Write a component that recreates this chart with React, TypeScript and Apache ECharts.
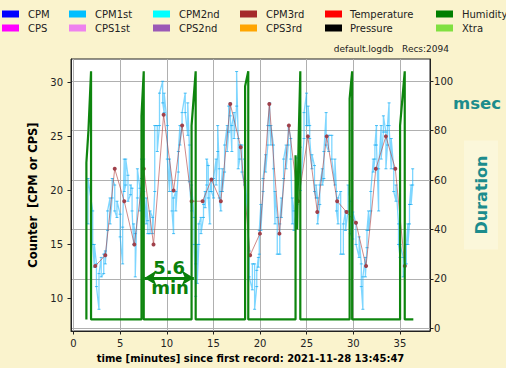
import React, { useEffect, useRef } from 'react';
import * as echarts from 'echarts';

// ---- tick values ----
const xTicks = [0, 5, 10, 15, 20, 25, 30, 35];
const leftTicks = [10, 15, 20, 25, 30];
const rightTicks = [0, 20, 40, 60, 80, 100];

// ---- legend ----
const legendRow1 = ['CPM', 'CPM1st', 'CPM2nd', 'CPM3rd', 'Temperature', 'Humidity'];
const legendRow2 = ['CPS', 'CPS1st', 'CPS2nd', 'CPS3rd', 'Pressure', 'Xtra'];
const legendColors1 = ['#0000FF', '#00BFFF', '#00FFFF', '#A52A2A', '#FF0000', '#007F00'];
const legendColors2 = ['#FF00FF', '#EE82EE', '#9B59B6', '#FFA500', '#000000', '#80E040'];

// ---- CPM3rd (brown, left axis) ----
const cpm3rdTimes = [2.33, 3.41, 4.42, 5.44, 6.52, 7.53, 8.58, 9.66, 10.73, 11.65, 12.66, 13.84, 14.79, 15.8, 16.81, 17.93, 18.94, 19.99, 21.0, 22.08, 23.1, 24.1, 25.13, 26.14, 27.15, 28.27, 29.28, 30.29, 31.37, 32.42, 33.5, 34.51, 35.53];
const cpm3rdValues = [13, 14, 22, 19, 15, 22, 15, 27, 20, 26, 19, 19, 21, 19, 28, 24, 14, 16, 28, 16, 26, 19, 25, 18, 25, 19, 18, 17, 13, 22, 25, 22, 13];

// ---- CPM1st (light blue, left axis): per time column, low and high reading ----
const cpm1stTimes = [1.55, 2.06, 2.23, 2.46, 2.73, 2.97, 3.24, 3.41, 3.65, 3.92, 4.15, 4.42, 4.66, 5.0, 5.27, 5.44, 5.6, 5.84, 6.11, 6.28, 6.45, 6.62, 6.85, 7.12, 7.29, 7.53, 7.8, 7.97, 8.21, 8.48, 8.71, 8.98, 9.22, 9.56,
  9.72, 10.06, 10.29, 10.56, 10.73, 10.97, 11.24, 11.41, 11.64, 11.98, 12.25, 12.42, 12.66, 12.93, 13.1, 13.27, 13.44, 13.67, 13.94, 14.11, 14.28, 14.45, 14.62, 14.79, 15.02, 15.29, 15.46, 15.63, 15.8, 15.97, 16.2, 16.48, 16.64, 16.81, 16.98, 17.22, 17.49, 17.66, 17.83, 18.06, 18.33, 18.84, 19.18,
  19.42, 19.65, 19.82, 19.92, 20.09, 20.33, 20.6, 20.84, 21.04, 21.17, 21.44, 21.61, 21.85, 22.12, 22.29, 22.53, 22.8, 23.03, 23.3, 23.47, 23.64, 23.98, 24.32, 24.72, 24.99, 25.16, 25.33, 25.57, 25.84, 26.01, 26.17, 26.41, 26.68, 26.85, 27.09, 27.36, 27.7, 28.03, 28.2, 28.37, 28.65,
  28.94, 29.17, 29.44, 29.68, 29.95, 30.29, 30.63, 30.86, 31.03, 31.3, 31.47, 31.64, 31.88, 32.15, 32.32, 32.49, 32.72, 32.99, 33.23, 33.5, 33.67, 33.84, 34.07, 34.34, 34.58, 34.85, 35.02, 35.36, 35.69, 35.86, 36.03, 36.2, 36.37];
const cpm1stLow = [16.9, 15.0, 12.9, 11.1, 9.0, 12.0, 12.3, 13.2, 16.3, 16.9, 19.3, 18.1, 17.5, 15.7, 13.2, 19.9, 20.5, 19.0, 19.6, 18.1, 15.0, 12.0, 19.3, 18.1, 21.1, 19.9, 16.9, 16.0, 16.0, 16.0, 19.9, 23.6, 26.0, 28.1,
  27.2, 22.9, 19.9, 18.1, 16.0, 18.1, 21.7, 24.2, 26.0, 27.2, 25.1, 20.8, 18.1, 15.0, 10.2, 11.4, 15.0, 16.0, 17.5, 18.4, 20.5, 19.3, 16.9, 19.9, 19.3, 20.5, 23.6, 19.3, 18.1, 19.9, 21.7, 23.6, 25.4, 26.9, 23.6, 24.8, 27.8, 22.0, 22.9, 21.7, 20.5, 12.0, 10.8,
  9.0, 11.1, 12.9, 14.1, 16.3, 19.9, 21.7, 24.2, 26.0, 24.2, 22.0, 16.9, 14.1, 14.1, 17.5, 21.1, 22.0, 24.2, 22.9, 16.9, 16.3, 18.7, 20.0, 24.8, 26.0, 26.0, 24.8, 22.0, 19.9, 19.3, 16.9, 18.7, 20.5, 21.1, 24.2, 23.6, 22.9, 20.5, 18.1, 16.9, 14.1,
  14.1, 16.3, 18.1, 16.0, 15.5, 15.0, 13.8, 11.1, 9.0, 12.0, 14.7, 16.3, 18.1, 21.7, 22.9, 24.2, 18.1, 22.9, 25.4, 22.0, 24.2, 26.0, 22.0, 19.9, 19.0, 15.0, 13.8, 12.0, 13.2, 15.0, 16.9, 18.7, 20.5];
const cpm1stHigh = [21.1, 18.1, 15.0, 13.2, 12.3, 13.8, 14.1, 14.4, 18.1, 19.3, 21.1, 20.5, 19.0, 17.8, 16.6, 22.9, 22.9, 21.4, 20.5, 20.2, 16.9, 16.0, 22.0, 20.2, 22.9, 22.9, 19.3, 17.2, 18.1, 17.5, 26.0, 26.0, 29.0, 30.1,
  29.0, 26.0, 22.9, 19.9, 19.3, 19.9, 23.6, 26.0, 27.2, 29.0, 28.1, 24.2, 20.5, 17.5, 13.2, 15.0, 16.9, 17.5, 18.7, 19.9, 22.9, 22.3, 19.9, 21.1, 21.1, 22.9, 26.0, 22.0, 19.9, 22.0, 24.2, 26.0, 27.8, 28.1, 26.0, 27.2, 31.0, 24.8, 24.2, 24.2, 22.9, 14.4, 13.2,
  13.2, 12.6, 13.8, 16.3, 18.7, 21.1, 23.3, 26.0, 28.1, 26.0, 24.2, 19.9, 17.5, 16.9, 19.3, 22.9, 24.2, 26.0, 24.8, 19.3, 18.1, 23.0, 24.0, 27.2, 29.0, 27.8, 26.0, 23.3, 22.3, 20.5, 19.3, 20.5, 22.0, 23.6, 27.2, 25.1, 25.1, 22.9, 19.9, 19.3, 19.9,
  16.9, 18.1, 20.5, 19.0, 18.0, 16.9, 15.7, 13.2, 12.0, 13.8, 16.3, 18.1, 19.9, 22.9, 24.2, 26.0, 22.0, 26.0, 26.9, 25.4, 26.0, 28.1, 24.8, 22.0, 20.5, 16.9, 15.0, 13.8, 15.0, 16.9, 18.7, 20.5, 22.0];

// ---- Duration (green, right axis, msec) ----
const durationTimes = [1.38, 1.38, 1.6, 1.88, 1.88, 7.29, 7.29, 7.53, 7.53, 12.66, 12.66, 13.1, 13.1, 18.4, 18.4, 18.74, 18.74, 23.81, 23.81, 23.98, 24.15, 24.32, 24.32, 29.61, 29.61, 29.88, 29.88, 35.02, 35.02, 35.52, 35.52, 36.44];
const durationValues = [3.6, 67, 80, 104, 3.6, 3.6, 86, 104, 3.6, 3.6, 82, 104, 3.6, 3.6, 98, 104, 3.6, 3.6, 70, 40, 78, 104, 3.6, 3.6, 93, 104, 3.6, 3.6, 82, 104, 3.6, 3.6];

// ---- annotation (in left-axis units) ----
const arrowFrom = 7.6;
const arrowTo = 12.9;
const arrowLevel = 11.9;
const annotationText = ['5.6', 'min'];

const FONT = '"DejaVu Sans", "Liberation Sans", sans-serif';
const BG = '#FAF3CD';
const TEAL = '#1C8C8C';

export default function App() {
  const ref = useRef<HTMLDivElement>(null);

  useEffect(() => {
    if (!ref.current) return;
    const chart = echarts.init(ref.current, undefined, { renderer: 'svg' });

    const blueData: number[][] = [];
    cpm1stTimes.forEach((t, i) => {
      if (i % 2 === 0) {
        blueData.push([t, cpm1stLow[i]], [t, cpm1stHigh[i]]);
      } else {
        blueData.push([t, cpm1stHigh[i]], [t, cpm1stLow[i]]);
      }
    });
    const brownData = cpm3rdTimes.map((t, i) => [t, cpm3rdValues[i]]);
    const greenData = durationTimes.map((t, i) => [t, durationValues[i]]);

    const legendX = [2, 69, 153, 240, 325, 436];
    const legendTextX = [28, 95, 179, 266, 350, 462];
    const legendY = [14, 28];
    const legendGraphics: any[] = [];
    [legendRow1, legendRow2].forEach((row, r) => {
      const colors = r === 0 ? legendColors1 : legendColors2;
      row.forEach((name, c) => {
        legendGraphics.push({
          type: 'rect',
          shape: { x: legendX[c], y: legendY[r] - 3.5, width: 17, height: 7 },
          style: { fill: colors[c] },
        });
        legendGraphics.push({
          type: 'text',
          x: legendTextX[c],
          y: legendY[r],
          style: { text: name, fill: '#222', font: `10px ${FONT}`, textAlign: 'left', textVerticalAlign: 'middle', align: 'left', verticalAlign: 'middle' },
        });
      });
    });

    const option: any = {
      animation: false,
      backgroundColor: BG,
      textStyle: { fontFamily: FONT },
      grid: { left: 71, top: 59, width: 380, height: 276, show: true, backgroundColor: '#ffffff', borderColor: '#222', borderWidth: 1 },
      xAxis: {
        type: 'value',
        min: -0.27,
        max: 38.23,
        axisLine: { show: true, onZero: false, lineStyle: { color: '#222' } },
        axisTick: { show: true, customValues: xTicks, length: 3.5, lineStyle: { color: '#222' } },
        axisLabel: { customValues: xTicks, color: '#222', fontSize: 10, margin: 7, fontFamily: FONT },
        splitLine: { show: true, lineStyle: { color: '#b0b0b0', width: 1 } },
        name: 'time [minutes] since first record: 2021-11-28 13:45:47',
        nameLocation: 'middle',
        nameGap: 22,
        nameTextStyle: { fontWeight: 'bold', fontSize: 10, color: '#000', fontFamily: FONT },
      },
      yAxis: [
        {
          type: 'value',
          position: 'left',
          min: 6.99,
          max: 32.16,
          axisLine: { show: true, onZero: false, lineStyle: { color: '#222' } },
          axisTick: { show: true, customValues: leftTicks, length: 3.5, lineStyle: { color: '#222' } },
          axisLabel: { customValues: leftTicks, color: '#222', fontSize: 10, margin: 8, fontFamily: FONT },
          splitLine: { show: false },
          name: 'Counter  [CPM or CPS]',
          nameLocation: 'middle',
          nameGap: 27,
          nameRotate: 90,
          nameTextStyle: { fontWeight: 'bold', fontSize: 11.5, color: '#000', fontFamily: FONT },
        },
        {
          type: 'value',
          position: 'right',
          min: -1.1,
          max: 109,
          axisLine: { show: true, onZero: false, lineStyle: { color: '#222' } },
          axisTick: { show: true, customValues: rightTicks, length: 3.5, lineStyle: { color: '#222' } },
          axisLabel: { customValues: rightTicks, color: '#222', fontSize: 10, margin: 4, fontFamily: FONT },
          splitLine: { show: true, lineStyle: { color: '#b0b0b0', width: 1 } },
          name: 'Duration',
          nameLocation: 'middle',
          nameGap: 24,
          nameRotate: 90,
          nameTextStyle: { fontWeight: 'bold', fontSize: 16, color: TEAL, fontFamily: FONT, backgroundColor: '#FBF7DA', padding: [9, 15, 9, 15] },
        },
      ],
      graphic: [
        ...legendGraphics,
        {
          type: 'text',
          x: 449,
          y: 49,
          style: { text: 'default.logdb   Recs:2094', fill: '#222', font: `9px ${FONT}`, textAlign: 'right', textVerticalAlign: 'middle', align: 'right', verticalAlign: 'middle' },
        },
        {
          type: 'text',
          x: 453,
          y: 103,
          style: { text: 'msec', fill: TEAL, font: `bold 16.5px ${FONT}`, textAlign: 'left', textVerticalAlign: 'middle', align: 'left', verticalAlign: 'middle' },
        },
      ],
      series: [
        {
          name: 'CPM1st',
          type: 'line',
          xAxisIndex: 0,
          yAxisIndex: 0,
          data: blueData,
          lineStyle: { color: 'rgba(20,180,255,0.55)', width: 1.3 },
          itemStyle: { color: 'rgba(20,170,240,0.75)' },
          symbol: 'rect',
          symbolSize: [3, 1],
          showSymbol: true,
          z: 2,
        },
        {
          name: 'CPM3rd',
          type: 'line',
          xAxisIndex: 0,
          yAxisIndex: 0,
          data: brownData,
          lineStyle: { color: 'rgba(175,60,60,0.6)', width: 1 },
          itemStyle: { color: '#A0404A' },
          symbol: 'circle',
          symbolSize: 4,
          showSymbol: true,
          z: 3,
          markLine: {
            silent: true,
            symbol: ['arrow', 'arrow'],
            symbolSize: [11, 12],
            lineStyle: { color: '#0A800A', width: 3, type: 'solid' },
            label: { show: false },
            data: [[{ coord: [arrowFrom, arrowLevel] }, { coord: [arrowTo, arrowLevel] }]],
            z: 6,
          },
          markPoint: {
            silent: true,
            symbol: 'circle',
            symbolSize: 0,
            label: { show: true, position: 'inside', formatter: '{b}', color: '#0A800A', fontWeight: 'bold', fontSize: 18, fontFamily: FONT },
            data: [
              { name: annotationText[0], coord: [(arrowFrom + arrowTo) / 2, arrowLevel + 0.95] },
              { name: annotationText[1], coord: [(arrowFrom + arrowTo) / 2 + 0.1, arrowLevel - 0.85] },
            ],
            z: 6,
          },
        },
        {
          name: 'Duration',
          type: 'line',
          xAxisIndex: 0,
          yAxisIndex: 1,
          data: greenData,
          lineStyle: { color: '#0E850E', width: 2.2 },
          itemStyle: { color: '#0E850E' },
          symbol: 'none',
          z: 4,
        },
      ],
    };

    chart.setOption(option);
    return () => chart.dispose();
  }, []);

  return <div ref={ref} style={{ width: 506, height: 368, position: 'absolute', left: 0, top: 0 }} />;
}
